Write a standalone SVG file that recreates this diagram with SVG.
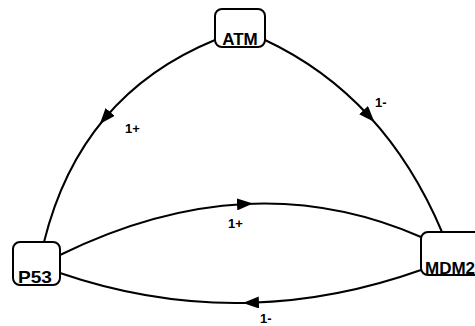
<svg xmlns="http://www.w3.org/2000/svg" width="475" height="326" viewBox="0 0 475 326">
<style>
.box{fill:#fff;stroke:#000;stroke-width:2}
.nt{font-family:"Liberation Sans",Arial,sans-serif;font-weight:bold;font-size:17px;fill:#000}
.edge{fill:none;stroke:#000;stroke-width:2;marker-mid:url(#arr)}
.lbl{font-family:"Liberation Sans",Arial,sans-serif;font-weight:bold;font-size:13px;fill:#000}
</style>
<defs>
<marker id="arr" viewBox="0 0 16 12" refX="8" refY="6" markerWidth="16" markerHeight="12" markerUnits="userSpaceOnUse" orient="auto">
<path d="M0,0 L16,6 L0,12 Z" fill="#000"/>
</marker>
</defs>
<rect width="475" height="326" fill="#fff"/>
<g id="connectors">
<path class="edge" d="M215,40 Q147.75,67.5 105,118 Q62.25,168.5 44,242"/>
<path class="edge" d="M265,40 Q324.75,68 369,116 Q413.25,164 442,232"/>
<path class="edge" d="M60,255 Q154.75,208.5 245,204 Q335.25,199.5 421,237"/>
<path class="edge" d="M421,270 Q335.7,300.3 250.9,302.7 Q155.1,305.6 60,273"/>
<text class="lbl" x="125" y="133">1+</text>
<text class="lbl" x="375" y="107">1-</text>
<text class="lbl" x="228" y="228">1+</text>
<text class="lbl" x="260" y="323">1-</text>
</g>
<g id="ATM">
<rect class="box" x="215" y="9" width="50" height="38" rx="7"/>
<text class="nt" x="240" y="45" text-anchor="middle">ATM</text>
</g>
<g id="P53">
<rect class="box" x="13" y="242" width="47" height="43" rx="7"/>
<text class="nt" x="18" y="283" textLength="34" lengthAdjust="spacingAndGlyphs">P53</text>
</g>
<g id="MDM2">
<rect class="box" x="421" y="232" width="70" height="43" rx="7"/>
<text class="nt" x="425" y="274">MDM2</text>
</g>
</svg>
